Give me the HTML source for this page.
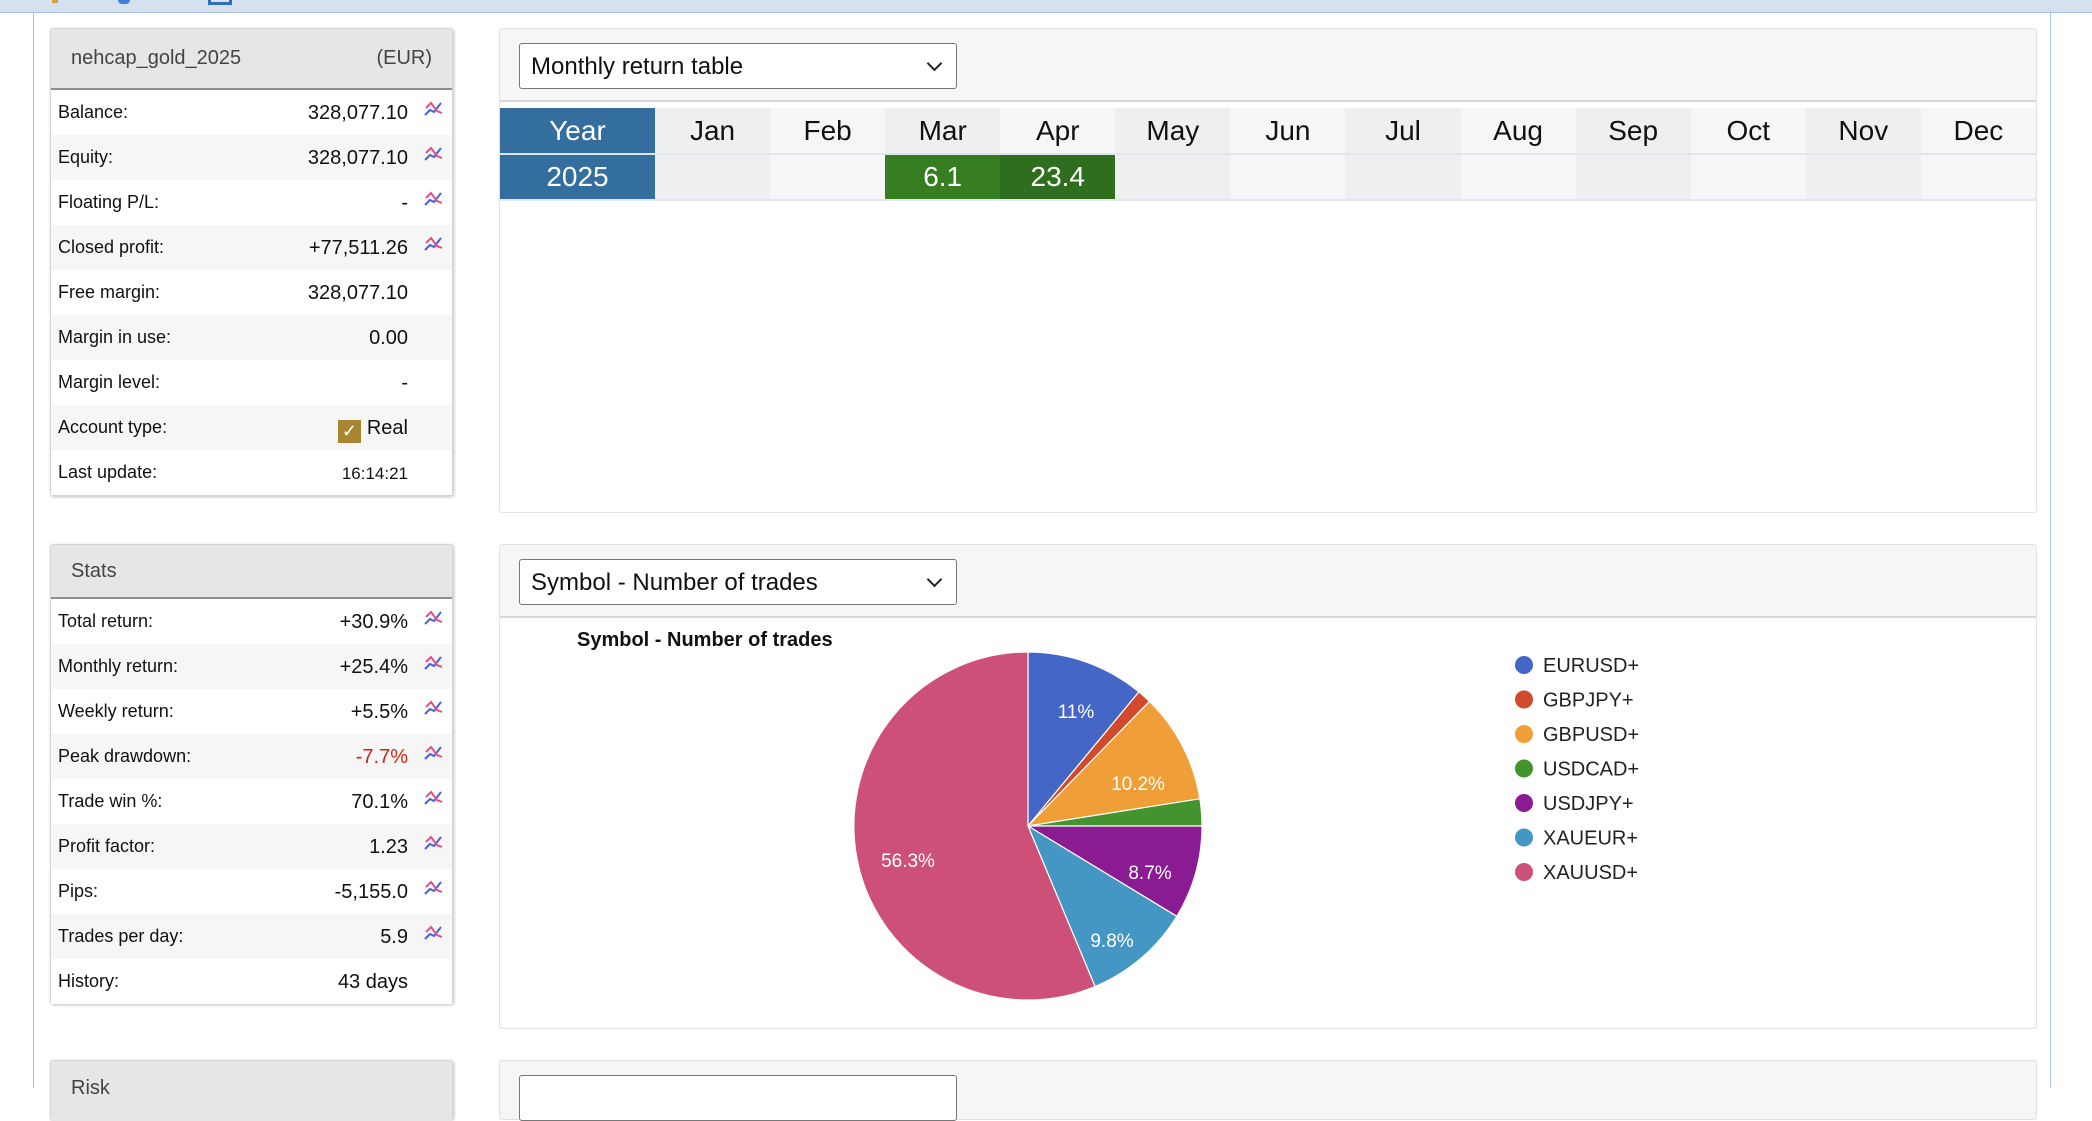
<!DOCTYPE html>
<html><head><meta charset="utf-8">
<style>
*{box-sizing:border-box;margin:0;padding:0}
body{width:2092px;height:1088px;overflow:hidden;background:#fff;position:relative;font-family:"Liberation Sans",sans-serif;color:#111}
.abs{position:absolute}
.topbar{left:0;top:0;width:2092px;height:13px;background:#d5e1ef;border-bottom:1px solid #a9c1e6}
.vline{top:13px;width:1px;height:1075px;background:#a9c1e6}
.lp{left:50px;width:403px;background:#fff;border:1px solid #d4d4d4;box-shadow:1px 1px 3px rgba(0,0,0,.25);border-radius:3px}
.lph{height:61px;background:#e6e6e6;border-bottom:2px solid #8f8f8f;font-size:20px;color:#444;padding:0 20px;display:flex;align-items:center;justify-content:space-between}
.row{height:45px;position:relative;font-size:18px}
.row:nth-child(odd){background:#f6f6f6}
.row .l{position:absolute;left:7px;top:12px}
.row .v{position:absolute;right:44px;top:12px;font-size:20px}
.row svg{position:absolute;right:6px;top:8px}
.rp{left:499px;width:1538px;border:1px solid #e2e2e2;border-radius:3px;background:#fff}
.rph{height:73px;background:#f6f6f6;border-bottom:2px solid #d8d8d8;position:relative}
.dd{position:absolute;left:19px;top:14px;width:438px;height:46px;border:1px solid #777;border-radius:3px;background:#fff;font-size:24px;padding:9px 11px}
.dd:after{content:"";position:absolute;right:16px;top:14px;width:9px;height:9px;border-right:2px solid #222;border-bottom:2px solid #222;transform:rotate(45deg)}
table{border-collapse:collapse;position:absolute;left:0;top:79px}
td{width:115.1px;height:46px;text-align:center;font-size:28px;padding:0}
</style></head><body>
<div class="abs topbar"></div>
<div class="abs" style="left:52px;top:0;width:6px;height:3px;background:#c9a640"></div>
<div class="abs" style="left:118px;top:0;width:12px;height:4px;border-radius:0 0 6px 6px;background:#3b7fd6"></div>
<div class="abs" style="left:208px;top:0;width:24px;height:5px;border:3px solid #2f6fb3;border-top:none"></div>
<div class="abs vline" style="left:33px"></div>
<div class="abs vline" style="left:2050px"></div>

<svg width="0" height="0" style="position:absolute"><defs><g id="ic"><polyline points="3,17 8,12 12,14 19,5" fill="none" stroke="#4a5fd8" stroke-width="2"/><polyline points="4,10 9,5 15,13 20,15" fill="none" stroke="#e0508a" stroke-width="2"/></g></defs></svg>

<div class="abs lp" style="top:28px;height:468px">
<div class="lph"><span>nehcap_gold_2025</span><span>(EUR)</span></div>
<div>
<div class="row" style="background:#fff"><span class="l">Balance:</span><span class="v">328,077.10</span><svg width="24" height="22"><use href="#ic"/></svg></div>
<div class="row" style="background:#f6f6f6"><span class="l">Equity:</span><span class="v">328,077.10</span><svg width="24" height="22"><use href="#ic"/></svg></div>
<div class="row" style="background:#fff"><span class="l">Floating P/L:</span><span class="v">-</span><svg width="24" height="22"><use href="#ic"/></svg></div>
<div class="row" style="background:#f6f6f6"><span class="l">Closed profit:</span><span class="v">+77,511.26</span><svg width="24" height="22"><use href="#ic"/></svg></div>
<div class="row" style="background:#fff"><span class="l">Free margin:</span><span class="v">328,077.10</span></div>
<div class="row" style="background:#f6f6f6"><span class="l">Margin in use:</span><span class="v">0.00</span></div>
<div class="row" style="background:#fff"><span class="l">Margin level:</span><span class="v">-</span></div>
<div class="row" style="background:#f6f6f6"><span class="l">Account type:</span><span class="v"><span style="display:inline-block;width:23px;height:23px;background:#a88530;color:#fff;font-size:18px;text-align:center;line-height:23px;vertical-align:-3px;margin-right:6px">✓</span>Real</span></div>
<div class="row" style="background:#fff"><span class="l">Last update:</span><span class="v" style="font-size:17px;top:14px">16:14:21</span></div>
</div></div>

<div class="abs lp" style="top:544px;height:460px">
<div class="lph" style="height:54px"><span>Stats</span></div>
<div>
<div class="row" style="background:#fff"><span class="l">Total return:</span><span class="v">+30.9%</span><svg width="24" height="22"><use href="#ic"/></svg></div>
<div class="row" style="background:#f6f6f6"><span class="l">Monthly return:</span><span class="v">+25.4%</span><svg width="24" height="22"><use href="#ic"/></svg></div>
<div class="row" style="background:#fff"><span class="l">Weekly return:</span><span class="v">+5.5%</span><svg width="24" height="22"><use href="#ic"/></svg></div>
<div class="row" style="background:#f6f6f6"><span class="l">Peak drawdown:</span><span class="v" style="color:#c8261b">-7.7%</span><svg width="24" height="22"><use href="#ic"/></svg></div>
<div class="row" style="background:#fff"><span class="l">Trade win %:</span><span class="v">70.1%</span><svg width="24" height="22"><use href="#ic"/></svg></div>
<div class="row" style="background:#f6f6f6"><span class="l">Profit factor:</span><span class="v">1.23</span><svg width="24" height="22"><use href="#ic"/></svg></div>
<div class="row" style="background:#fff"><span class="l">Pips:</span><span class="v">-5,155.0</span><svg width="24" height="22"><use href="#ic"/></svg></div>
<div class="row" style="background:#f6f6f6"><span class="l">Trades per day:</span><span class="v">5.9</span><svg width="24" height="22"><use href="#ic"/></svg></div>
<div class="row" style="background:#fff"><span class="l">History:</span><span class="v">43 days</span></div>
</div></div>

<div class="abs lp" style="top:1060px;height:60px">
<div class="lph" style="height:60px;border-bottom:none;align-items:flex-start;padding-top:16px"><span>Risk</span></div></div>

<div class="abs rp" style="top:28px;height:485px">
<div class="rph"><div class="dd">Monthly return table</div></div>
<table><tr>
<td style="width:155px;background:#336e9e;color:#fff">Year</td>
<td style="background:#efefef">Jan</td><td style="background:#f6f6f6">Feb</td><td style="background:#efefef">Mar</td><td style="background:#f6f6f6">Apr</td><td style="background:#efefef">May</td><td style="background:#f6f6f6">Jun</td><td style="background:#efefef">Jul</td><td style="background:#f6f6f6">Aug</td><td style="background:#efefef">Sep</td><td style="background:#f6f6f6">Oct</td><td style="background:#efefef">Nov</td><td style="background:#f6f6f6">Dec</td></tr>
<tr style="border-top:2px solid #dde6ee;border-bottom:2px solid #e3e8ee">
<td style="background:#336e9e;color:#fff">2025</td>
<td style="background:#efefef"></td><td style="background:#f6f6f6"></td><td style="background:#377d22;color:#fff">6.1</td><td style="background:#2f6e1f;color:#fff">23.4</td><td style="background:#efefef"></td><td style="background:#f6f6f6"></td><td style="background:#efefef"></td><td style="background:#f6f6f6"></td><td style="background:#efefef"></td><td style="background:#f6f6f6"></td><td style="background:#efefef"></td><td style="background:#f6f6f6"></td></tr></table>
</div>

<div class="abs rp" style="top:544px;height:485px">
<div class="rph"><div class="dd">Symbol - Number of trades</div></div>
</div>

<svg class="abs" style="left:0;top:0" width="2092" height="1088">
<text x="577" y="646" font-size="20" font-weight="bold" fill="#111" font-family="Liberation Sans">Symbol - Number of trades</text>
<g stroke="#fff" stroke-width="1.2">
<path d="M1028,826 L1028,652 A174,174 0 0 1 1138.9,691.9 Z" fill="#4366c7"/>
<path d="M1028,826 L1138.9,691.9 A174,174 0 0 1 1149.5,701.4 Z" fill="#d04a2b"/>
<path d="M1028,826 L1149.5,701.4 A174,174 0 0 1 1199.9,798.8 Z" fill="#f09e38"/>
<path d="M1028,826 L1199.9,798.8 A174,174 0 0 1 1202,826 Z" fill="#43932f"/>
<path d="M1028,826 L1202,826 A174,174 0 0 1 1176.8,916.3 Z" fill="#8b1b93"/>
<path d="M1028,826 L1176.8,916.3 A174,174 0 0 1 1095.1,986.5 Z" fill="#4497c4"/>
<path d="M1028,826 L1095.1,986.5 A174,174 0 1 1 1028,652 Z" fill="#cc5077"/>
</g>
<g font-size="19" fill="#fff" font-family="Liberation Sans" text-anchor="middle">
<text x="1076" y="718">11%</text>
<text x="1138" y="790">10.2%</text>
<text x="908" y="867">56.3%</text>
<text x="1150" y="879">8.7%</text>
<text x="1112" y="947">9.8%</text>
</g>
<g font-size="20" fill="#222" font-family="Liberation Sans">
<circle cx="1524" cy="665" r="9" fill="#4366c7"/><text x="1543" y="672">EURUSD+</text>
<circle cx="1524" cy="699.5" r="9" fill="#d04a2b"/><text x="1543" y="706.5">GBPJPY+</text>
<circle cx="1524" cy="734" r="9" fill="#f09e38"/><text x="1543" y="741">GBPUSD+</text>
<circle cx="1524" cy="768.5" r="9" fill="#43932f"/><text x="1543" y="775.5">USDCAD+</text>
<circle cx="1524" cy="803" r="9" fill="#8b1b93"/><text x="1543" y="810">USDJPY+</text>
<circle cx="1524" cy="837.5" r="9" fill="#4497c4"/><text x="1543" y="844.5">XAUEUR+</text>
<circle cx="1524" cy="872" r="9" fill="#cc5077"/><text x="1543" y="879">XAUUSD+</text>
</g>
</svg>

<div class="abs rp" style="top:1060px;height:60px;background:#f6f6f6">
<div class="abs" style="left:19px;top:14px;width:438px;height:46px;border:1px solid #777;border-radius:3px;background:#fff"></div>
</div>
</body></html>
